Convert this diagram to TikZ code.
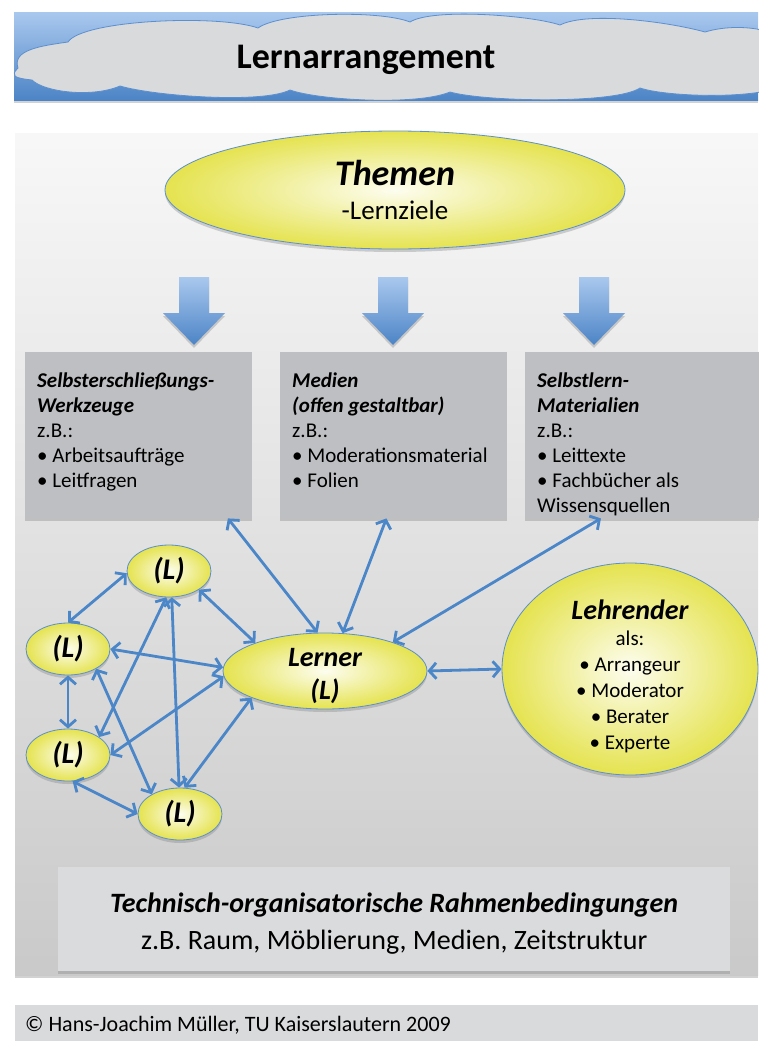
\documentclass[tikz,border=0pt]{standalone}
\usepackage{fontspec}
\setmainfont{Carlito}
\usetikzlibrary{positioning,shapes.geometric,arrows.meta,shadows}

\definecolor{pfeilblau}{HTML}{4A86C8}
\definecolor{randblau}{HTML}{5B8FD0}
\definecolor{gelb}{HTML}{E5E34F}
\definecolor{gelbhell}{HTML}{FDFDF0}
\definecolor{kastengrau}{HTML}{BEBFC2}
\definecolor{rahmengrau}{HTML}{DADBDD}
\definecolor{wolkengrau}{HTML}{D9DADC}
\definecolor{bannerhell}{HTML}{A9C8EE}
\definecolor{bannerdunkel}{HTML}{4C84C6}

\newcommand{\lernfont}{\fontsize{28}{33}\selectfont\bfseries\itshape}

\tikzset{
  schatten/.style={drop shadow={shadow xshift=0pt,shadow yshift=-3pt,opacity=0.35}},
  lern/.style={ellipse, draw=randblau, line width=0.8pt, inner color=gelbhell, outer color=gelb, inner sep=0pt, schatten},
  klein/.style={lern, minimum width=84pt, minimum height=52pt, font=\fontsize{30}{34}\selectfont\bfseries\itshape},
  kasten/.style={rectangle, fill=kastengrau, minimum width=227pt, minimum height=166pt, anchor=north west, schatten},
  kastentext/.style={align=left, inner sep=0pt, font=\fontsize{21}{25}\selectfont},
  pfeil/.style={draw=pfeilblau, line width=2.8pt, >={Straight Barb[length=7pt,width=16pt]}, <->},
}

\begin{document}
\begin{tikzpicture}[x=1pt,y=-1pt]
  \fill[white] (0,0) rectangle (758,1041);
  \useasboundingbox (0,0) rectangle (758,1041);

  % Titel
  \node[rectangle, anchor=north west, minimum width=744pt, minimum height=88pt, top color=bannerhell, bottom color=bannerdunkel, schatten] (banner) at (14,12) {};
  \draw[fill=wolkengrau, draw=randblau, line width=0.8pt] (18,68)
    .. controls +(-6,-18) and +(-28,4) .. (68,42)
    .. controls +(14,-22) and +(-40,-14) .. (258,28)
    .. controls +(22,-16) and +(-30,-12) .. (410,22)
    .. controls +(22,-14) and +(-30,-10) .. (560,25)
    .. controls +(28,-14) and +(-36,-10) .. (705,32)
    .. controls +(40,-12) and +(10,-25) .. (790,58)
    -- (790,80)
    .. controls +(-12,20) and +(30,10) .. (640,88)
    .. controls +(-24,16) and +(36,10) .. (450,92)
    .. controls +(-34,14) and +(28,10) .. (290,90)
    .. controls +(-28,14) and +(34,10) .. (120,86)
    .. controls +(-28,12) and +(12,12) .. (32,80)
    .. controls +(-18,-2) and +(-8,8) .. (18,68) -- cycle;
  \node[font=\fontsize{36}{40}\selectfont\bfseries] (titel) at (366,60) {Lernarrangement};

  % Rahmen
  \node[rectangle, anchor=north west, minimum width=743pt, minimum height=842pt, top color=black!3, bottom color=black!21, schatten] (feld) at (15,133) {};

  % Themen
  \node[lern, minimum width=460pt, minimum height=118pt, align=center, font=\fontsize{27}{34}\selectfont] (themen) at (395,190)
    {{\fontsize{36}{38}\selectfont\bfseries\itshape Themen}\\-Lernziele};

  \foreach \x in {194,393,594}
    \shade[top color=bannerhell, bottom color=bannerdunkel, schatten] (\x-15,277) -- (\x+15,277) -- (\x+15,313) -- (\x+31,313) -- (\x,345) -- (\x-31,313) -- (\x-15,313) -- cycle;

  % Kaesten
  \node[kasten] (werkzeug) at (25,352) {};
  \node[kasten] (medien) at (280,352) {};
  \node[kasten, minimum width=240pt] (material) at (525,352) {};
  \node[kastentext, below right=21pt and 12pt of werkzeug.north west] (werkzeugtext)
    {\textbf{\textit{Selbsterschließungs-}}\\\textbf{\textit{Werkzeuge}}\\z.B.:\\• Arbeitsaufträge\\• Leitfragen};
  \node[kastentext, below right=21pt and 12pt of medien.north west] (medientext)
    {\textbf{\textit{Medien}}\\\textbf{\textit{(offen gestaltbar)}}\\z.B.:\\• Moderationsmaterial\\• Folien};
  \node[kastentext, below right=21pt and 12pt of material.north west] (materialtext)
    {\textbf{\textit{Selbstlern-}}\\\textbf{\textit{Materialien}}\\z.B.:\\• Leittexte\\• Fachbücher als\\Wissensquellen};

  % Lernende
  \node[klein] (l1) at (169,571) {(L)};
  \node[klein] (l2) at (68,649) {(L)};
  \node[klein] (l3) at (68,755) {(L)};
  \node[klein] (l4) at (180,814) {(L)};
  \node[lern, minimum width=204pt, minimum height=76pt] (lerner) at (325,671) {};
  \node[align=center, font=\lernfont] (lernertext) at ([yshift=-5pt]lerner.center) {Lerner\\(L)};

  \node[lern, minimum width=256pt, minimum height=212pt] (lehr) at (630,669) {};
  \node[align=center, font=\fontsize{21}{26}\selectfont] (lehrtext) at ([yshift=-7pt]lehr.center)
    {{\lernfont Lehrender}\\als:\\• Arrangeur\\• Moderator\\• Berater\\• Experte};

  % Rahmenbedingungen
  \node[rectangle, anchor=north west, minimum width=672pt, minimum height=104pt, fill=rahmengrau, schatten] (rahmen) at (58,867) {};
  \node[align=center, font=\fontsize{28}{37}\selectfont] (rahmentext) at ([yshift=-4pt]rahmen.center)
    {\textbf{\textit{Technisch-organisatorische Rahmenbedingungen}}\\z.B. Raum, Möblierung, Medien, Zeitstruktur};

  % Fusszeile
  \node[rectangle, anchor=north west, minimum width=743pt, minimum height=36pt, fill=wolkengrau] (fuss) at (15,1005) {};
  \node[anchor=west, inner sep=0pt, font=\fontsize{22}{26}\selectfont] (copy) at ([xshift=10pt,yshift=-2pt]fuss.west) {© Hans-Joachim Müller, TU Kaiserslautern 2009};

  % Verbindungen
  \draw[pfeil] (werkzeug.-43) -- (lerner.101);
  \draw[pfeil] (medien.-95) -- (lerner.65);
  \draw[pfeil] (material.-118) -- (lerner.23);
  \draw[pfeil] (lerner.east) -- (lehr.west);
  \draw[pfeil] (l1.183) -- (l2.north);
  \draw[pfeil] (l1.-32) -- (lerner.158);
  \draw[pfeil] (l1.-96) -- (l3.30);
  \draw[pfeil] (l1.-84) -- (l4.92);
  \draw[pfeil] (l2.east) -- (lerner.178);
  \draw[pfeil] (l2.south) -- (l3.north);
  \draw[pfeil] (l2.-35) -- (l4.145);
  \draw[pfeil] (lerner.183) -- (l3.east);
  \draw[pfeil] (l3.-80) -- (l4.west);
  \draw[pfeil] (lerner.200) -- (l4.80);
\end{tikzpicture}
\end{document}
